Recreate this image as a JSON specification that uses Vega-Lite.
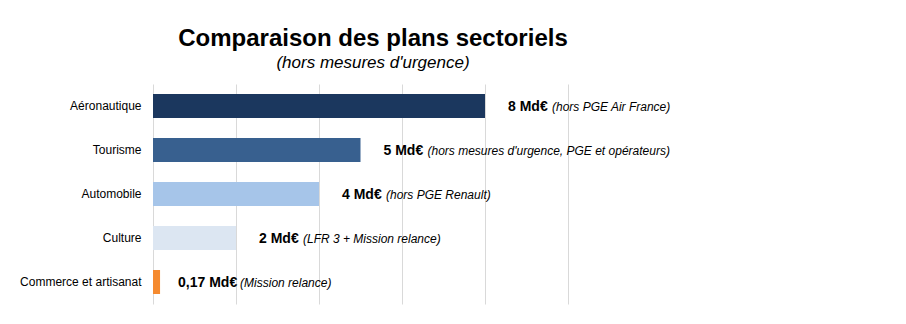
{
  "$schema": "https://vega.github.io/schema/vega-lite/v6.json",
  "autosize": "none",
  "padding": {"left": 153, "top": 84, "right": 338, "bottom": 20},
  "width": 415,
  "height": 220,
  "background": "white",
  "title": {
    "text": "Comparaison des plans sectoriels",
    "subtitle": "(hors mesures d'urgence)",
    "anchor": "middle",
    "dx": 12.5,
    "font": "Liberation Sans",
    "fontSize": 24,
    "fontWeight": "bold",
    "color": "#000000",
    "subtitleFont": "Liberation Sans",
    "subtitleFontSize": 17,
    "subtitleFontStyle": "italic",
    "subtitleColor": "#000000",
    "subtitlePadding": 4,
    "offset": 13
  },
  "data": {
    "values": [
      {"secteur": "Aéronautique", "montant": 8, "montantTexte": "8 Md€", "precision": "(hors PGE Air France)"},
      {"secteur": "Tourisme", "montant": 5, "montantTexte": "5 Md€", "precision": "(hors mesures d'urgence, PGE et opérateurs)"},
      {"secteur": "Automobile", "montant": 4, "montantTexte": "4 Md€", "precision": "(hors PGE Renault)"},
      {"secteur": "Culture", "montant": 2, "montantTexte": "2 Md€", "precision": "(LFR 3 + Mission relance)"},
      {"secteur": "Commerce et artisanat", "montant": 0.17, "montantTexte": "0,17 Md€", "precision": "(Mission relance)"}
    ]
  },
  "encoding": {
    "y": {
      "field": "secteur",
      "type": "nominal",
      "sort": null,
      "scale": {"paddingInner": 0.4545, "paddingOuter": 0.227},
      "axis": {
        "title": null,
        "domain": false,
        "ticks": false,
        "labelPadding": 12,
        "labelFont": "Liberation Sans",
        "labelFontSize": 12,
        "labelColor": "#000000",
        "labelLimit": 200
      }
    },
    "x": {
      "field": "montant",
      "type": "quantitative",
      "scale": {"domain": [0, 10], "nice": false},
      "axis": {
        "title": null,
        "values": [0, 2, 4, 6, 8, 10],
        "labels": false,
        "ticks": false,
        "domain": false,
        "grid": true,
        "gridColor": "#d9d9d9",
        "gridWidth": 1
      }
    }
  },
  "layer": [
    {
      "mark": {"type": "bar"},
      "encoding": {
        "color": {
          "field": "secteur",
          "type": "nominal",
          "legend": null,
          "scale": {
            "domain": ["Aéronautique", "Tourisme", "Automobile", "Culture", "Commerce et artisanat"],
            "range": ["#1b375e", "#38608f", "#a6c5e9", "#dce6f2", "#f58a2f"]
          }
        }
      }
    },
    {
      "transform": [{"filter": "datum.secteur !== 'Commerce et artisanat'"}],
      "mark": {"type": "text", "align": "left", "baseline": "alphabetic", "dx": 23, "dy": 5, "font": "Liberation Sans", "fontSize": 14, "fontWeight": "bold", "color": "#000000"},
      "encoding": {"text": {"field": "montantTexte"}}
    },
    {
      "transform": [{"filter": "datum.secteur === 'Commerce et artisanat'"}],
      "mark": {"type": "text", "align": "left", "baseline": "alphabetic", "dx": 18, "dy": 5, "font": "Liberation Sans", "fontSize": 14, "fontWeight": "bold", "color": "#000000"},
      "encoding": {"text": {"field": "montantTexte"}}
    },
    {
      "transform": [{"filter": "datum.secteur !== 'Commerce et artisanat'"}],
      "mark": {"type": "text", "align": "left", "baseline": "alphabetic", "dx": 67, "dy": 5, "font": "Liberation Sans", "fontSize": 12, "fontStyle": "italic", "color": "#000000"},
      "encoding": {"text": {"field": "precision"}}
    },
    {
      "transform": [{"filter": "datum.secteur === 'Commerce et artisanat'"}],
      "mark": {"type": "text", "align": "left", "baseline": "alphabetic", "dx": 80, "dy": 5, "font": "Liberation Sans", "fontSize": 12, "fontStyle": "italic", "color": "#000000"},
      "encoding": {"text": {"field": "precision"}}
    }
  ],
  "config": {"view": {"stroke": null}}
}
